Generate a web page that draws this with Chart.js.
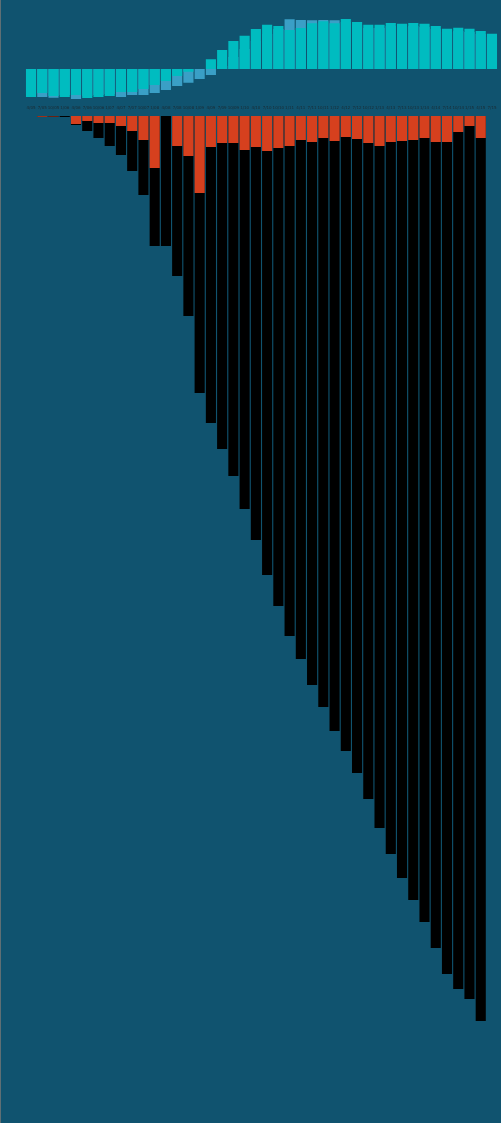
<!DOCTYPE html>
<html>
<head>
<meta charset="utf-8">
<script src="https://cdn.jsdelivr.net/npm/chart.js@4/dist/chart.umd.min.js"></script>
<style>
  html, body { margin: 0; padding: 0; background: #10536f; }
  body { width: 501px; height: 1123px; position: relative; overflow: hidden; }
  #edge { position: absolute; left: 0; top: 0; width: 1px; height: 1123px; background: #5f6f74; }
  #top { position: absolute; left: 0; top: 0; }
  #bottom { position: absolute; left: 0; top: 116px; }
</style>
</head>
<body>
<div id="edge"></div>
<canvas id="top" width="501" height="112"></canvas>
<canvas id="bottom" width="501" height="1007"></canvas>
<script>
// Quarter labels
const labels = ["4/05","7/05","10/05","1/06","4/06","7/06","10/06","1/07","4/07","7/07",
  "10/07","1/08","4/08","7/08","10/08","1/09","4/09","7/09","10/09","1/10",
  "4/10","7/10","10/10","1/11","4/11","7/11","10/11","1/12","4/12","7/12",
  "10/12","1/13","4/13","7/13","10/13","1/14","4/14","7/14","10/14","1/15",
  "4/15","7/15"];

// Top panel series (teal in front, blue behind)
const tealSeries = [-28,-24,-27,-28,-26,-29,-28,-27,-23,-23,
  -20,-16,-12,-7,-2.7,0,9.7,19,28,33.3,
  40,44.3,43,39,41,45.7,47.7,45.7,50,47,
  44.3,44.3,46,45.3,46,45.3,43,40.3,41.3,40.3,
  38,35.3];
const blueSeries = [-25,-28,-28.7,-26,-30,-27,-26,-25,-28,-26,
  -26,-24,-21,-17,-13.7,-10,-6,3,12,20,
  28,35,40,49.7,49,48.7,49,48.7,47,44,
  41,41,43,42,43,42,40,37,38,37,
  35,32];

// Bottom panel series (red in front, black behind), measured downward
const redSeries = [0,0.8,0.5,0,8,5,7,7,10,15,
  24,52,0,30,40,77,31,27,27,34,
  31,35,32,30,24,26,22,25,21,23,
  27,30,26,25,24,22,26,26,16,10,
  22,null];
const blackSeries = [0,1,1,1,9,15,22,30,39,55,
  79,130,130,160,200,277,307,333,360,393,
  424,459,490,520,543,569,591,615,635,657,
  683,712,738,762,784,806,832,858,873,883,
  905,null];

const PAD = { left: 25.4, right: 3.4, top: 0, bottom: 0 };

new Chart(document.getElementById('top'), {
  type: 'bar',
  data: {
    labels: labels,
    datasets: [
      { data: tealSeries, backgroundColor: '#00bcc0', barPercentage: 0.9, categoryPercentage: 1 },
      { data: blueSeries, backgroundColor: '#3a9fc6', barPercentage: 0.9, categoryPercentage: 1 }
    ]
  },
  options: {
    responsive: false,
    devicePixelRatio: 1,
    animation: false,
    layout: { padding: PAD },
    plugins: { legend: { display: false }, tooltip: { enabled: false } },
    datasets: { bar: { grouped: false } },
    scales: {
      x: {
        grid: { display: false, drawTicks: false },
        border: { display: false },
        ticks: { autoSkip: false, maxRotation: 0, minRotation: 0, padding: 2,
                 color: '#1c2b33', font: { size: 4, family: 'DejaVu Sans' } }
      },
      y: { display: false, min: -34.2, max: 69 }
    }
  }
});

new Chart(document.getElementById('bottom'), {
  type: 'bar',
  data: {
    labels: labels,
    datasets: [
      { data: redSeries, backgroundColor: '#d6401e', barPercentage: 0.9, categoryPercentage: 1 },
      { data: blackSeries, backgroundColor: '#000000', barPercentage: 0.9, categoryPercentage: 1 }
    ]
  },
  options: {
    responsive: false,
    devicePixelRatio: 1,
    animation: false,
    layout: { padding: PAD },
    plugins: { legend: { display: false }, tooltip: { enabled: false } },
    datasets: { bar: { grouped: false } },
    scales: {
      x: { display: false },
      y: { display: false, reverse: true, min: 0, max: 1007 }
    }
  }
});
</script>
</body>
</html>
